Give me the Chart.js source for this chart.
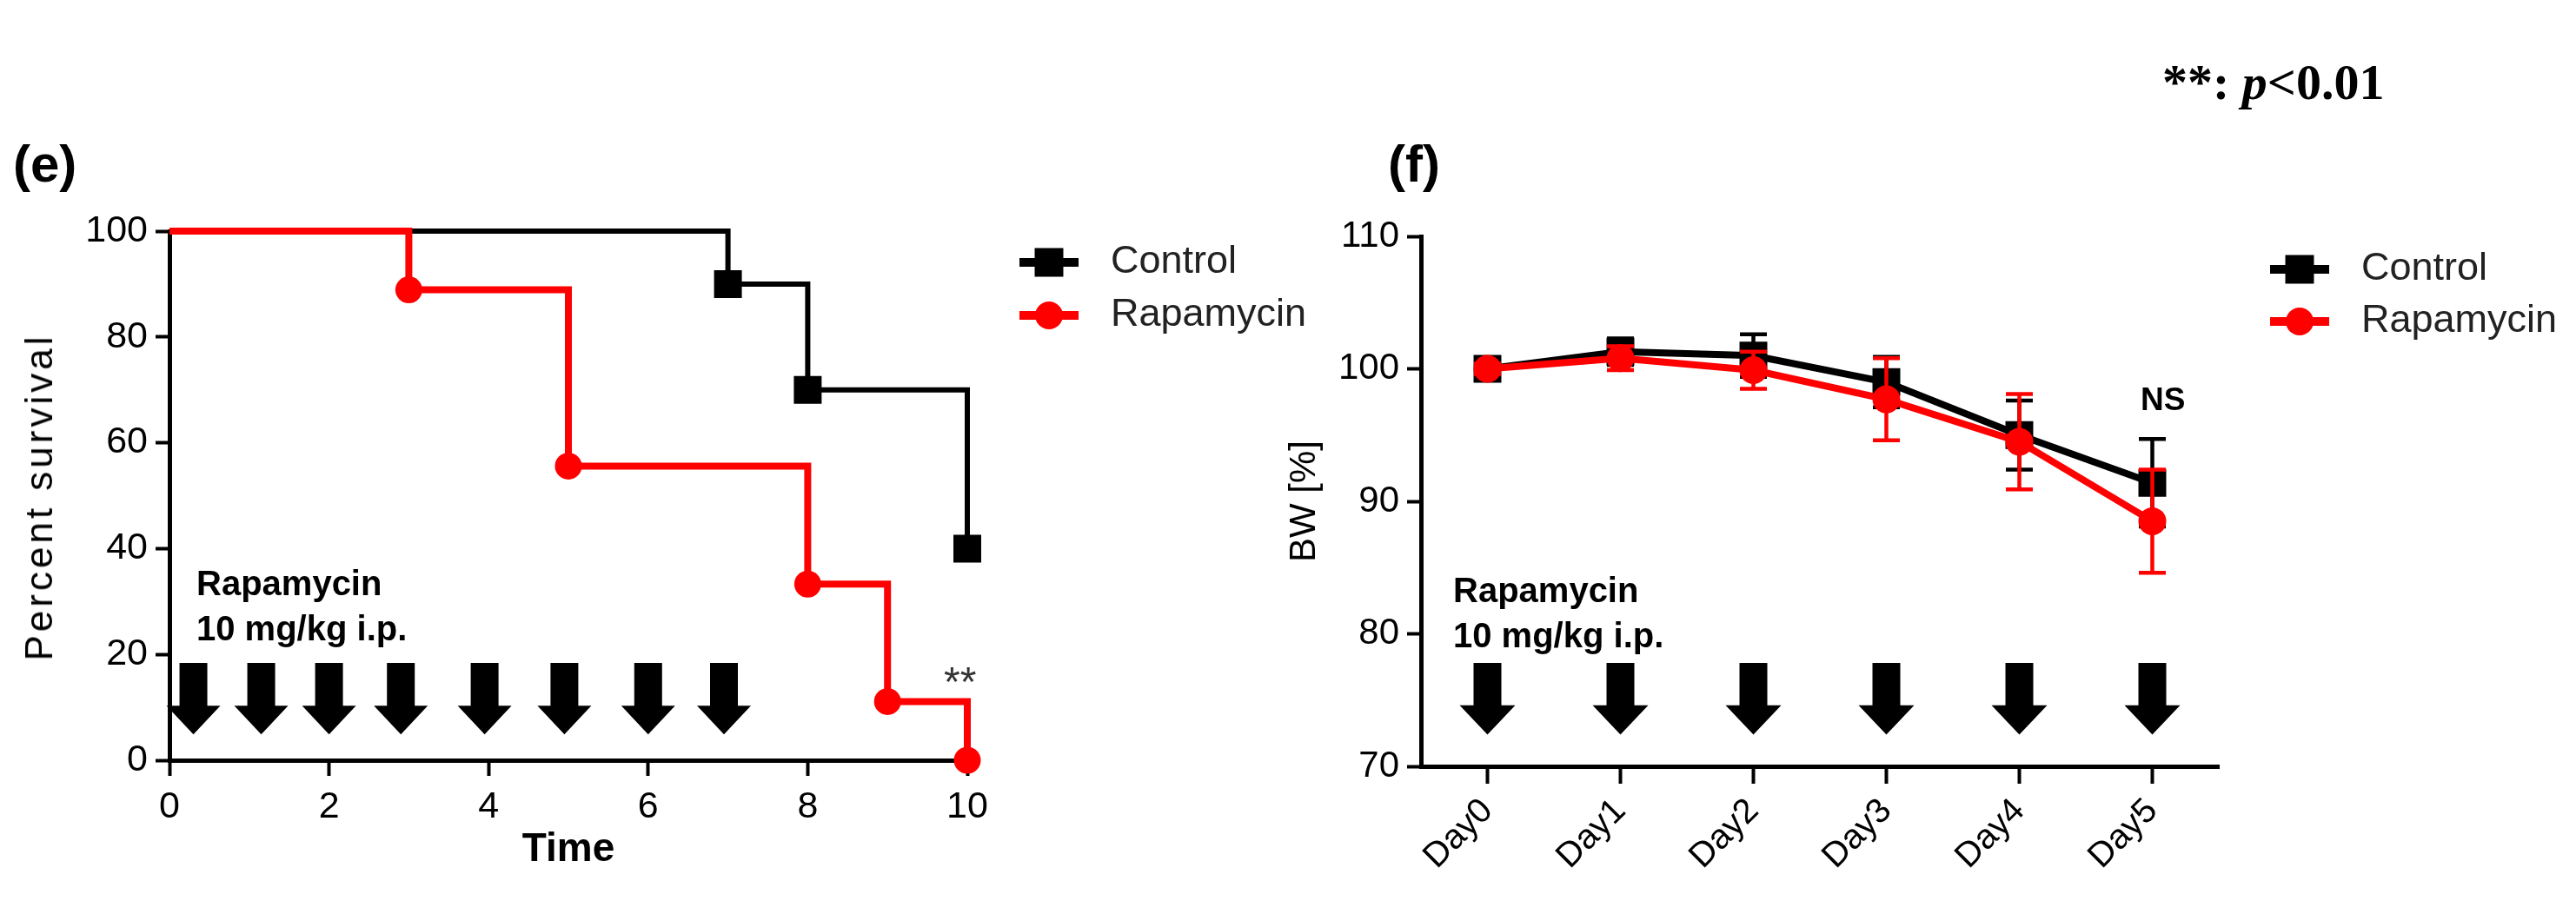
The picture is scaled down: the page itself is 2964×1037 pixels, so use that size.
<!DOCTYPE html>
<html>
<head>
<meta charset="utf-8">
<script src="https://cdn.jsdelivr.net/npm/chart.js@4.4.1/dist/chart.umd.min.js"></script>
<style>
  html, body { margin: 0; padding: 0; background: #fff; }
  #fig { position: relative; width: 2964px; height: 1037px; overflow: hidden; font-family: "Liberation Sans", Arial, sans-serif; }
  canvas { position: absolute; top: 0; }
  #survival { left: 0; }
  #weight { left: 1440px; }
  .note { position: absolute; white-space: nowrap; color: #000; line-height: 1; }
  .panel { font-weight: bold; font-size: 60px; top: 159px; }
  .dose { font-weight: bold; font-size: 40px; line-height: 52px; }
  #pnote { font-family: "Liberation Serif", "Times New Roman", serif; font-weight: bold; font-size: 58px; left: 2488px; top: 66px; }
  #ylab { font-size: 44px; letter-spacing: 4px; left: 45px; top: 572px; transform: translate(-50%, -50%) rotate(-90deg); }
</style>
</head>
<body>
<div id="fig">
  <canvas id="survival" width="1560" height="1037"></canvas>
  <canvas id="weight" width="1524" height="1037"></canvas>
  <div class="note panel" style="left:15px">(e)</div>
  <div class="note panel" style="left:1597px">(f)</div>
  <div class="note" id="pnote">**: <i>p</i>&lt;0.01</div>
  <div class="note" id="ylab">Percent survival</div>
  <div class="note dose" style="left:226px; top:645px">Rapamycin<br>10 mg/kg i.p.</div>
  <div class="note dose" style="left:1672px; top:653px">Rapamycin<br>10 mg/kg i.p.</div>
  <div class="note" style="left:1086px; top:761px; font-size:48px; color:#333">**</div>
  <div class="note" style="left:2463px; top:441px; font-size:37px; font-weight:bold">NS</div>
</div>
<script>
// (e) Kaplan-Meier survival
const controlTimes = [0, 7, 8, 10];
const controlSurvival = [100, 90, 70, 40];
const rapaTimes = [0, 3, 5, 8, 9, 10];
const rapaSurvival = [100, 88.9, 55.6, 33.3, 11.1, 0];
const survivalTicks = [0, 20, 40, 60, 80, 100];
const timeTicks = [0, 2, 4, 6, 8, 10];
const doseTimes = [0.3, 1.15, 2, 2.9, 3.95, 4.95, 6, 6.95];

// (f) body weight, mean and SEM
const days = ['Day0', 'Day1', 'Day2', 'Day3', 'Day4', 'Day5'];
const bwControl = [100, 101.3, 101.0, 99.0, 95.0, 91.4];
const bwControlSem = [0.4, 1.0, 1.6, 1.9, 2.6, 3.3];
const bwRapa = [100, 100.8, 99.9, 97.7, 94.5, 88.5];
const bwRapaSem = [0.4, 0.9, 1.4, 3.1, 3.6, 3.9];
const bwTicks = [70, 80, 90, 100, 110];
const doseDays = ['Day0', 'Day1', 'Day2', 'Day3', 'Day4', 'Day5'];

const BLACK = '#000000';
const RED = '#ff0000';
Chart.defaults.font.family = "'Liberation Sans', Arial, sans-serif";
Chart.defaults.color = '#000';

const toPoints = (xs, ys) => xs.map((x, i) => ({ x: x, y: ys[i] }));
const fixedTicks = values => scale => { scale.ticks = values.map(v => ({ value: v })); };

// legend: short line with the marker in the middle
const lineLegend = {
	id: 'lineLegend',
	afterDraw(chart, args, opts) {
		const ctx = chart.ctx;
		ctx.save();
		chart.data.datasets.forEach((ds, i) => {
			const y = opts.y + i * opts.gap;
			ctx.strokeStyle = ds.borderColor;
			ctx.lineWidth = opts.lineWidth;
			ctx.beginPath();
			ctx.moveTo(opts.x - opts.half, y);
			ctx.lineTo(opts.x + opts.half, y);
			ctx.stroke();
			ctx.fillStyle = ds.borderColor;
			Chart.helpers.drawPoint(ctx, { pointStyle: ds.pointStyle, radius: opts.radius[ds.pointStyle], borderWidth: 0 }, opts.x, y);
			ctx.fillStyle = '#222';
			ctx.font = opts.font;
			ctx.textBaseline = 'middle';
			ctx.fillText(ds.label, opts.textX, y);
		});
		ctx.restore();
	}
};

// black injection arrows
const doseArrows = {
	id: 'doseArrows',
	afterDatasetsDraw(chart, args, opts) {
		const ctx = chart.ctx;
		const xs = chart.scales.x;
		const ys = chart.scales.y;
		const top = ys.getPixelForValue(opts.top);
		const neck = ys.getPixelForValue(opts.neck);
		const tip = ys.getPixelForValue(opts.tip);
		ctx.save();
		ctx.fillStyle = BLACK;
		opts.at.forEach(v => {
			const cx = xs.getPixelForValue(v);
			ctx.beginPath();
			ctx.moveTo(cx - opts.shaft / 2, top);
			ctx.lineTo(cx + opts.shaft / 2, top);
			ctx.lineTo(cx + opts.shaft / 2, neck);
			ctx.lineTo(cx + opts.head / 2, neck);
			ctx.lineTo(cx, tip);
			ctx.lineTo(cx - opts.head / 2, neck);
			ctx.lineTo(cx - opts.shaft / 2, neck);
			ctx.closePath();
			ctx.fill();
		});
		ctx.restore();
	}
};

// SEM error bars, drawn under each dataset's own line
const semBars = {
	id: 'semBars',
	beforeDatasetDraw(chart, args, opts) {
		const ds = chart.data.datasets[args.index];
		if (!ds.sem) return;
		const ctx = chart.ctx;
		const ys = chart.scales.y;
		ctx.save();
		ctx.strokeStyle = ds.borderColor;
		ctx.lineWidth = opts.lineWidth;
		args.meta.data.forEach((pt, i) => {
			const hi = ys.getPixelForValue(ds.data[i] + ds.sem[i]);
			const lo = ys.getPixelForValue(ds.data[i] - ds.sem[i]);
			ctx.beginPath();
			ctx.moveTo(pt.x, hi);
			ctx.lineTo(pt.x, lo);
			ctx.moveTo(pt.x - opts.cap / 2, hi);
			ctx.lineTo(pt.x + opts.cap / 2, hi);
			ctx.moveTo(pt.x - opts.cap / 2, lo);
			ctx.lineTo(pt.x + opts.cap / 2, lo);
			ctx.stroke();
		});
		ctx.restore();
	}
};

const axisStyle = (tickLength) => ({
	grid: { display: true, drawOnChartArea: false, drawTicks: true, tickLength: tickLength, tickWidth: 4, tickColor: BLACK, color: BLACK },
	border: { display: true, color: BLACK, width: 5 },
});

new Chart(document.getElementById('survival'), {
	type: 'line',
	data: {
		datasets: [
			{
				label: 'Control',
				data: toPoints(controlTimes, controlSurvival),
				borderColor: BLACK,
				backgroundColor: BLACK,
				pointBackgroundColor: BLACK,
				pointBorderWidth: 0,
				borderWidth: 6,
				stepped: 'before',
				pointStyle: 'rect',
				pointRadius: c => c.dataIndex === 0 ? 0 : 22.6,
				clip: false,
				order: 2,
			},
			{
				label: 'Rapamycin',
				data: toPoints(rapaTimes, rapaSurvival),
				borderColor: RED,
				backgroundColor: RED,
				pointBackgroundColor: RED,
				pointBorderWidth: 0,
				borderWidth: 8,
				stepped: 'before',
				pointStyle: 'circle',
				pointRadius: c => c.dataIndex === 0 ? 0 : 15.5,
				clip: false,
				order: 1,
			},
		]
	},
	options: {
		responsive: false,
		animation: false,
		devicePixelRatio: 1,
		events: [],
		layout: { padding: { left: 0, top: 266, right: 447, bottom: 0 } },
		scales: {
			x: {
				type: 'linear',
				min: 0,
				max: 10,
				afterBuildTicks: fixedTicks(timeTicks),
				afterFit: s => { s.height = 162; },
				ticks: { font: { size: 43 }, padding: 10, maxRotation: 0 },
				title: { display: true, text: 'Time', font: { size: 46, weight: 'bold' }, padding: { top: 0, bottom: 31 } },
				...axisStyle(18),
			},
			y: {
				min: 0,
				max: 100,
				afterBuildTicks: fixedTicks(survivalTicks),
				afterFit: s => { s.width = 195; },
				ticks: { font: { size: 43 }, padding: 9 },
				...axisStyle(16),
			}
		},
		plugins: {
			legend: { display: false },
			tooltip: { enabled: false },
			lineLegend: { x: 1207, textX: 1278, y: 302, gap: 61, half: 34, lineWidth: 10, radius: { rect: 23.3, circle: 16 }, font: "45px 'Liberation Sans', Arial, sans-serif" },
			doseArrows: { at: doseTimes, top: 18.4, neck: 10.3, tip: 4.9, shaft: 32, head: 62 },
		}
	},
	plugins: [lineLegend, doseArrows]
});

new Chart(document.getElementById('weight'), {
	type: 'line',
	data: {
		labels: days,
		datasets: [
			{
				label: 'Control',
				data: bwControl,
				sem: bwControlSem,
				borderColor: BLACK,
				backgroundColor: BLACK,
				pointBackgroundColor: BLACK,
				pointBorderWidth: 0,
				borderWidth: 8,
				pointStyle: 'rect',
				pointRadius: 22.6,
				clip: false,
				order: 2,
			},
			{
				label: 'Rapamycin',
				data: bwRapa,
				sem: bwRapaSem,
				borderColor: RED,
				backgroundColor: RED,
				pointBackgroundColor: RED,
				pointBorderWidth: 0,
				borderWidth: 8,
				pointStyle: 'circle',
				pointRadius: 16,
				clip: false,
				order: 1,
			},
		]
	},
	options: {
		responsive: false,
		animation: false,
		devicePixelRatio: 1,
		events: [],
		layout: { padding: { left: 0, top: 272, right: 411, bottom: 0 } },
		scales: {
			x: {
				type: 'category',
				offset: true,
				afterFit: s => { s.height = 155; },
				ticks: { font: { size: 40 }, padding: 8, maxRotation: 45, minRotation: 45 },
				...axisStyle(20),
			},
			y: {
				min: 70,
				max: 110,
				afterBuildTicks: fixedTicks(bwTicks),
				afterFit: s => { s.width = 195; },
				ticks: { font: { size: 42 }, padding: 9 },
				title: { display: true, text: 'BW [%]', font: { size: 42 }, padding: { top: 36, bottom: 0 } },
				...axisStyle(16),
			}
		},
		plugins: {
			legend: { display: false },
			tooltip: { enabled: false },
			semBars: { lineWidth: 4.5, cap: 31 },
			lineLegend: { x: 1206, textX: 1277, y: 310, gap: 60, half: 34, lineWidth: 10, radius: { rect: 23.3, circle: 16 }, font: "45px 'Liberation Sans', Arial, sans-serif" },
			doseArrows: { at: doseDays, top: 77.8, neck: 74.6, tip: 72.4, shaft: 32, head: 64 },
		}
	},
	plugins: [semBars, lineLegend, doseArrows]
});
</script>
</body>
</html>
